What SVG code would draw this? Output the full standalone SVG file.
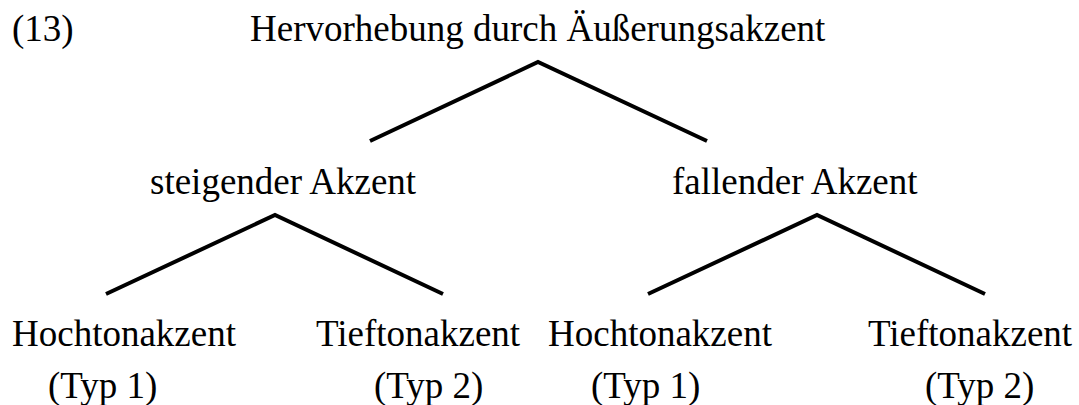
<svg xmlns="http://www.w3.org/2000/svg" width="1079" height="405" viewBox="0 0 1079 405">
<style>
text{font-family:"Liberation Serif","Times New Roman",serif;font-size:37px;fill:#000}
.edge{fill:none;stroke:#000;stroke-width:4;stroke-linejoin:miter;stroke-linecap:butt}
</style>
<rect width="1079" height="405" fill="#fff"/>
<g id="label-13"><text x="12" y="41">(13)</text></g>
<g id="node-root"><text x="250" y="41">Hervorhebung durch Äußerungsakzent</text></g>
<g id="node-steigend"><text x="150" y="194">steigender Akzent</text></g>
<g id="node-fallend"><text x="672" y="194">fallender Akzent</text></g>
<g id="node-hoch1"><text x="12" y="346">Hochtonakzent</text><text x="48" y="398">(Typ 1)</text></g>
<g id="node-tief1"><text x="316" y="346">Tieftonakzent</text><text x="374" y="398">(Typ 2)</text></g>
<g id="node-hoch2"><text x="548" y="346">Hochtonakzent</text><text x="591" y="398">(Typ 1)</text></g>
<g id="node-tief2"><text x="868" y="346">Tieftonakzent</text><text x="925" y="398">(Typ 2)</text></g>
<g id="connectors">
<polyline class="edge" points="370,141 538,62 707,141"/>
<polyline class="edge" points="106,294 275,215 443,294"/>
<polyline class="edge" points="648,294 817,215 985,294"/>
</g>
</svg>
